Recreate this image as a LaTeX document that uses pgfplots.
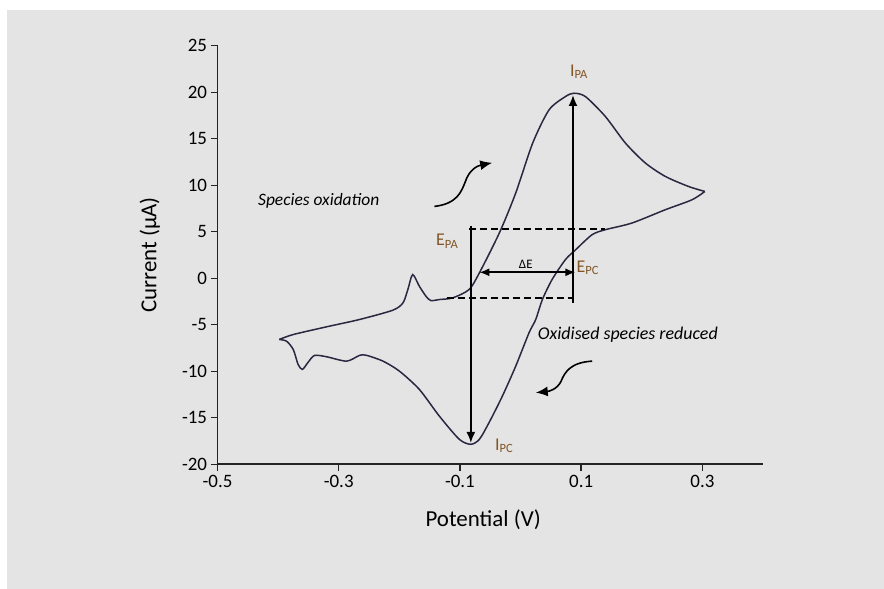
\documentclass[border=0pt]{standalone}
\usepackage{fontspec}
\setmainfont{Carlito}
\usepackage{pgfplots}
\pgfplotsset{compat=1.18}
\usetikzlibrary{arrows.meta}
\definecolor{panel}{RGB}{228,228,228}
\definecolor{trace}{RGB}{45,38,65}
\definecolor{axisgray}{RGB}{35,35,35}
\definecolor{lbl}{RGB}{130,85,35}

\begin{document}
\begin{tikzpicture}[x=1bp,y=1bp]
\fill[white] (0,0) rectangle (884,589);
\fill[panel] (7,0) rectangle (884,579);
\begin{axis}[
  at={(217.5bp,124.7bp)}, anchor=south west,
  scale only axis, width=545.5bp, height=418.6bp,
  xmin=-0.5, xmax=0.4, ymin=-20, ymax=25,
  axis lines=left,
  axis line style={-, axisgray, line width=1.6bp},
  xtick={-0.5,-0.3,-0.1,0.1,0.3},
  ytick={-20,-15,-10,-5,0,5,10,15,20,25},
  xticklabel style={/pgf/number format/.cd, fixed, precision=1},
  tick align=outside, major tick length=7bp,
  tick style={axisgray, line width=1.4bp},
  /pgf/number format/assume math mode=true,
  ticklabel style={font=\fontsize{19}{19}\selectfont, text=black},
  xlabel={Potential (V)}, ylabel={Current (μA)},
  label style={font=\fontsize{23}{23}\selectfont},
  xlabel style={at={(axis description cs:0.487,-0.133)}, anchor=center},
  ylabel style={at={(axis description cs:-0.124,0.5)}, anchor=center},
  clip=false,
]
% forward scan
\addplot[trace, line width=1.5bp, smooth, tension=0.45] coordinates {
(-0.398,-6.58) (-0.375,-6.05) (-0.320,-5.22) (-0.266,-4.44) (-0.211,-3.44)
(-0.194,-2.65) (-0.186,-1.22) (-0.178,0.39) (-0.167,-0.86) (-0.156,-1.94)
(-0.148,-2.40) (-0.134,-2.29) (-0.112,-2.11) (-0.085,-1.22) (-0.068,0.57)
(-0.035,4.87) (-0.008,9.16) (0.020,14.53) (0.047,18.10) (0.074,19.53)
(0.088,19.89) (0.107,19.53) (0.140,17.38) (0.173,14.53) (0.206,12.38)
(0.239,10.94) (0.277,9.87) (0.304,9.33)
};
% reverse scan
\addplot[trace, line width=1.5bp, smooth, tension=0.45] coordinates {
(0.304,9.33) (0.283,8.44) (0.239,7.37) (0.184,5.94) (0.140,5.22)
(0.118,4.68) (0.091,3.07) (0.074,2.00) (0.052,-0.14) (0.036,-2.29)
(0.025,-4.44) (0.014,-5.86) (-0.008,-9.45) (-0.030,-12.67) (-0.052,-15.52)
(-0.068,-17.32) (-0.082,-17.85) (-0.101,-17.32) (-0.134,-14.82) (-0.167,-11.95)
(-0.200,-9.98) (-0.227,-8.91) (-0.255,-8.27) (-0.266,-8.30) (-0.287,-8.91)
(-0.320,-8.44) (-0.340,-8.30) (-0.351,-9.08) (-0.360,-9.80) (-0.367,-9.27)
(-0.375,-7.66) (-0.386,-6.77) (-0.398,-6.58)
};

% peak markers
\draw[line width=1.8bp, -{Latex[length=11bp,width=9bp]}] (axis cs:0.0865,-2.64) -- (axis cs:0.0865,19.7);
\draw[line width=1.8bp, -{Latex[length=11bp,width=9bp]}] (axis cs:-0.082,5.57) -- (axis cs:-0.082,-17.7);
\draw[line width=1.5bp, dash pattern=on 7bp off 4bp] (axis cs:-0.085,5.3) -- (axis cs:0.140,5.3);
\draw[line width=1.5bp, dash pattern=on 7bp off 4bp] (axis cs:-0.122,-2.15) -- (axis cs:0.088,-2.15);
\draw[line width=1.6bp, {Latex[length=10bp,width=8bp]}-{Latex[length=10bp,width=8bp]}] (axis cs:-0.068,0.64) -- (axis cs:0.0905,0.64);
\node[font=\fontsize{13}{13}\selectfont] at (axis cs:0.0086,1.45) {ΔE};

\node[text=lbl, font=\fontsize{18}{18}\selectfont] at (axis cs:0.0963,22.2) {I\textsubscript{PA}};
\node[text=lbl, font=\fontsize{18}{18}\selectfont] at (axis cs:-0.121,3.97) {E\textsubscript{PA}};
\node[text=lbl, font=\fontsize{18}{18}\selectfont] at (axis cs:0.111,1.11) {E\textsubscript{PC}};
\node[text=lbl, font=\fontsize{18}{18}\selectfont] at (axis cs:-0.027,-18.03) {I\textsubscript{PC}};

% annotations
\node[font=\fontsize{17.5}{17.5}\selectfont\itshape] at (axis cs:-0.333,8.37) {Species oxidation};
\node[font=\fontsize{18}{18}\selectfont\itshape] at (axis cs:0.177,-6.05) {Oxidised species reduced};
\draw[line width=1.6bp, -{Latex[length=12bp,width=10bp]}]
  (axis cs:-0.1422,7.72) .. controls (axis cs:-0.1044,8.01) and (axis cs:-0.0978,9.30) ..
  (axis cs:-0.0912,10.37) .. controls (axis cs:-0.0847,11.66) and (axis cs:-0.0715,12.09) ..
  (axis cs:-0.0468,12.41);
\draw[line width=1.6bp, -{Latex[length=12bp,width=10bp]}]
  (axis cs:0.1182,-8.91) .. controls (axis cs:0.0832,-9.05) and (axis cs:0.0733,-10.02) ..
  (axis cs:0.0667,-11.09) .. controls (axis cs:0.0601,-11.95) and (axis cs:0.0470,-12.16) ..
  (axis cs:0.0251,-12.30);
\end{axis}
\end{tikzpicture}
\end{document}
